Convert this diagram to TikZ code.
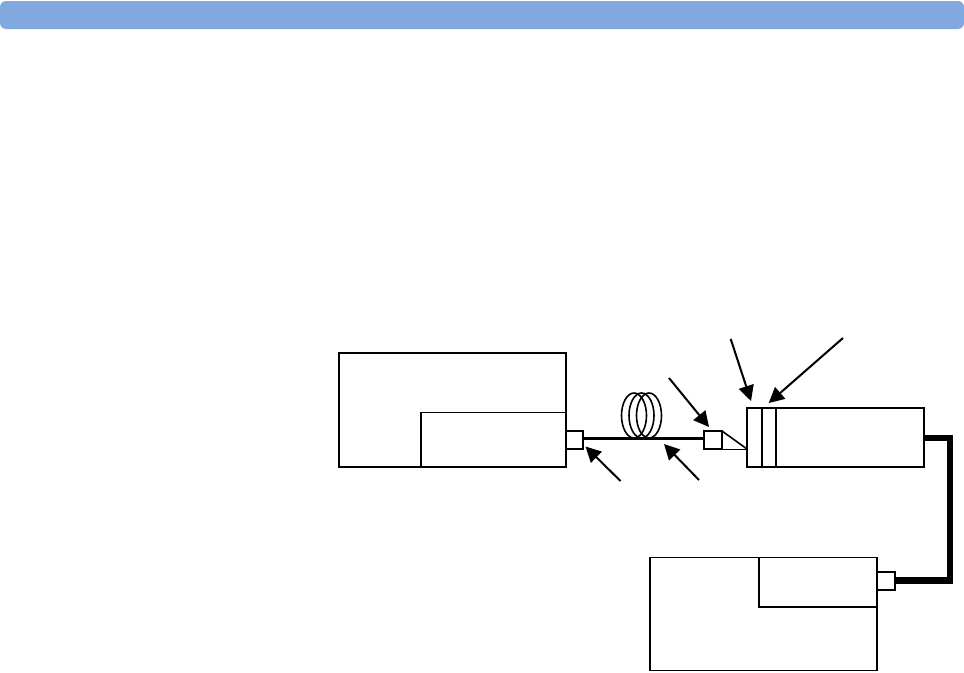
\documentclass[tikz,border=0pt]{standalone}
\usetikzlibrary{arrows.meta,shapes.geometric}
\definecolor{barblue}{HTML}{82A8E0}
\newcommand{\pxbox}[6][plainbox]{\node[#1,minimum width={(#5-#3)*0.75pt},minimum height={(#6-#4)*0.75pt}] (#2) at ({(#3+#5)/2},{(#4+#6)/2}) {};}
\tikzset{
  plainbox/.style={draw=black,line width=1.2pt,fill=none,inner sep=0pt,outer sep=0pt,rectangle},
  innerbox/.style={plainbox,line width=0.8pt},
  connbox/.style={plainbox,fill=white},
  wire/.style={draw=black,line width=1.2pt},
  fibre/.style={draw=black,line width=1.6pt},
  thinwire/.style={draw=black,line width=0.7pt},
  heavycable/.style={draw=black,line width=5.2pt,line join=miter},
  coil/.style={draw=black,line width=1.2pt},
  callout/.style={draw=black,line width=1.5pt,-{Triangle[length=11.5pt,width=11.5pt]}},
  headerbar/.style={fill=barblue,draw=none,rounded corners=4.5pt,inner sep=0pt,outer sep=0pt,rectangle}
}
\begin{document}
\begin{tikzpicture}[x=0.75pt,y=-0.75pt]
\useasboundingbox (0,0) rectangle (964,672);
\pxbox[headerbar]{bar}{0}{1}{964}{29}
% left unit
\pxbox[innerbox]{leftinner}{421}{412.6}{566}{467}
\pxbox{leftunit}{339}{353}{566}{467}
\pxbox[connbox]{leftconn}{566.5}{431}{583}{449}
% sensor connector
\pxbox[connbox]{midconn}{704}{431}{722}{449}
% right unit
\pxbox{rightunit}{747}{408}{924}{467}
\coordinate (seg1top) at (762,408); \coordinate (seg1bot) at (762,467);
\coordinate (seg2top) at (776,408); \coordinate (seg2bot) at (776,467);
\draw[wire] (seg1top) -- (seg1bot);
\draw[wire] (seg2top) -- (seg2bot);
% lower unit
\pxbox[innerbox]{lowinner}{759}{557.5}{877}{607}
\pxbox{lowunit}{650}{557.5}{877}{670.5}
\pxbox[connbox]{lowconn}{877}{572}{895}{590}
% fibre
\draw[fibre] (leftconn.east |- 0,438.5) -- (midconn.west |- 0,438.5);
\foreach \cx/\nm in {634/coila,641.5/coilb,649/coilc}
  \node[coil,ellipse,minimum width=18.75pt,minimum height=33.75pt,inner sep=0pt,outer sep=0pt] (\nm) at (\cx,415.5) {};
% taper
\coordinate (tapertip) at (747,449);
\draw[wire] (midconn.north east) -- (tapertip);
\draw[thinwire] (midconn.south east) -- (tapertip);
% heavy cable
\coordinate (cablecornerA) at (950,438);
\coordinate (cablecornerB) at (950,580.5);
\draw[heavycable] (rightunit.east |- cablecornerA) -- (cablecornerA) -- (cablecornerB) -- (lowconn.east |- cablecornerB);
% callouts
\coordinate (ta) at (620.5,481); \coordinate (ha) at (585.5,446.5);
\coordinate (tb) at (699,480);   \coordinate (hb) at (664,444);
\coordinate (tc) at (669,378);   \coordinate (hc) at (709,427);
\coordinate (td) at (730.7,339); \coordinate (hd) at (751,401);
\coordinate (te) at (843,338);   \coordinate (he) at (768.7,403);
\draw[callout] (ta) -- (ha);
\draw[callout] (tb) -- (hb);
\draw[callout] (tc) -- (hc);
\draw[callout] (td) -- (hd);
\draw[callout] (te) -- (he);
\end{tikzpicture}
\end{document}
